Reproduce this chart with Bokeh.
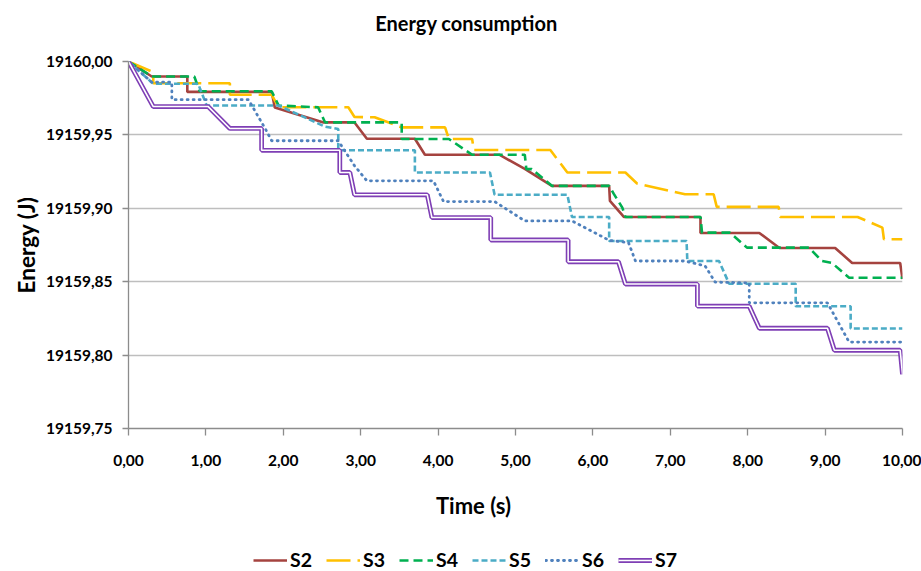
from bokeh.plotting import figure
from bokeh.layouts import column
from bokeh.models import Range1d, FixedTicker, CustomJSTickFormatter, Legend, LegendItem, Label
from bokeh.embed import file_html
from bokeh.resources import INLINE

# ---------------- data ----------------
title_text = "Energy consumption"
x_title = "Time (s)"
y_title = "Energy (J)"
x_ticks = [0, 1, 2, 3, 4, 5, 6, 7, 8, 9, 10]
y_ticks = [19159.75, 19159.80, 19159.85, 19159.90, 19159.95, 19160.00]

s2_t = [0, 0.30, 0.76, 0.76, 1.85, 1.89, 2.52, 2.92, 3.08, 3.70, 3.83, 4.79, 5.12, 5.47, 6.21, 6.22, 6.40,
        7.39, 7.39, 8.15, 8.41, 9.13, 9.35, 9.97, 10.00]
s2_e = [19160.0000, 19159.9898, 19159.9898, 19159.9793, 19159.9793, 19159.9686, 19159.9585, 19159.9585,
        19159.9474, 19159.9474, 19159.9365, 19159.9365, 19159.9269, 19159.9153, 19159.9153, 19159.9051,
        19159.8941, 19159.8941, 19159.8832, 19159.8832, 19159.8730, 19159.8730, 19159.8627, 19159.8627,
        19159.8518]

s3_t = [0, 0.32, 0.32, 1.31, 1.31, 1.85, 1.94, 2.84, 2.92, 3.18, 3.53, 4.09, 4.14, 4.44, 4.46, 5.45, 5.67,
        6.42, 6.57, 7.19, 7.56, 7.60, 8.40, 8.42, 9.42, 9.74, 9.76, 10.00]
s3_e = [19160.0000, 19159.9927, 19159.9852, 19159.9852, 19159.9773, 19159.9773, 19159.9688, 19159.9688,
        19159.9622, 19159.9620, 19159.9551, 19159.9551, 19159.9472, 19159.9472, 19159.9397, 19159.9397,
        19159.9244, 19159.9244, 19159.9169, 19159.9096, 19159.9096, 19159.9010, 19159.9010, 19159.8941,
        19159.8941, 19159.8868, 19159.8789, 19159.8789]

s4_t = [0, 0.30, 0.85, 0.92, 1.85, 1.94, 2.45, 2.54, 3.53, 3.53, 4.14, 4.44, 5.12, 5.14, 5.21, 5.47, 6.21,
        6.27, 6.38, 6.42, 7.39, 7.41, 7.77, 7.99, 8.79, 8.96, 9.09, 9.31, 10.00]
s4_e = [19160.0000, 19159.9898, 19159.9898, 19159.9797, 19159.9797, 19159.9700, 19159.9688, 19159.9585,
        19159.9585, 19159.9472, 19159.9472, 19159.9365, 19159.9365, 19159.9267, 19159.9267, 19159.9153,
        19159.9153, 19159.9098, 19159.9005, 19159.8941, 19159.8941, 19159.8834, 19159.8834, 19159.8732,
        19159.8732, 19159.8641, 19159.8627, 19159.8527, 19159.8527]

s5_t = [0, 0.32, 0.90, 1.01, 1.94, 2.54, 2.71, 2.71, 3.70, 3.70, 4.67, 4.73, 5.67, 5.73, 6.21, 6.21, 7.21,
        7.22, 7.63, 7.76, 8.62, 8.62, 9.33, 9.33, 10.00]
s5_e = [19160.0000, 19159.9848, 19159.9848, 19159.9700, 19159.9700, 19159.9556, 19159.9540, 19159.9395,
        19159.9395, 19159.9244, 19159.9244, 19159.9092, 19159.9092, 19159.8941, 19159.8941, 19159.8777,
        19159.8777, 19159.8641, 19159.8641, 19159.8486, 19159.8486, 19159.8333, 19159.8333, 19159.8181,
        19159.8181]

s6_t = [0, 0.30, 0.56, 0.56, 1.55, 1.77, 1.85, 2.71, 2.92, 3.08, 3.94, 4.07, 4.73, 5.12, 5.73, 6.21, 6.46,
        6.55, 7.19, 7.45, 7.58, 8.02, 8.02, 9.03, 9.31, 10.00]
s6_e = [19160.0000, 19159.9859, 19159.9859, 19159.9740, 19159.9740, 19159.9539, 19159.9460, 19159.9460,
        19159.9290, 19159.9187, 19159.9187, 19159.9046, 19159.9046, 19159.8914, 19159.8914, 19159.8782,
        19159.8766, 19159.8641, 19159.8641, 19159.8607, 19159.8497, 19159.8492, 19159.8356, 19159.8356,
        19159.8089, 19159.8089]

s7_t = [0, 0.32, 1.03, 1.31, 1.72, 1.72, 2.73, 2.73, 2.86, 2.92, 3.86, 3.92, 4.68, 4.68, 5.68, 5.68, 6.33,
        6.42, 7.35, 7.35, 8.02, 8.15, 9.03, 9.12, 9.97, 10.00]
s7_e = [19160.0000, 19159.9693, 19159.9693, 19159.9544, 19159.9544, 19159.9395, 19159.9395, 19159.9244,
        19159.9244, 19159.9092, 19159.9092, 19159.8937, 19159.8937, 19159.8784, 19159.8784, 19159.8636,
        19159.8636, 19159.8484, 19159.8484, 19159.8333, 19159.8333, 19159.8183, 19159.8183, 19159.8033,
        19159.8033, 19159.7870]

series_names = ["S2", "S3", "S4", "S5", "S6", "S7"]

FONT = "Lato"
W = 921
FRAME_LEFT = 128      # page x of the plotting area's left edge (frames are aligned in the column)

STYLES = {
    "S2": dict(line_color="#A5433F", line_width=2.6),
    "S3": dict(line_color="#FFC000", line_width=2.6, line_dash="24 7"),
    "S4": dict(line_color="#00B050", line_width=2.6, line_dash="9 5"),
    "S5": dict(line_color="#4BACC6", line_width=2.6, line_dash="6 3"),
    "S6": dict(line_color="#4F81BD", line_width=2.8, line_dash="1 5", line_cap="round"),
}
S7_OUTER = dict(line_color="#7F3FB5", line_width=4.8)
S7_INNER = dict(line_color="white", line_width=1.6)

data = {"S2": (s2_t, s2_e), "S3": (s3_t, s3_e), "S4": (s4_t, s4_e),
        "S5": (s5_t, s5_e), "S6": (s6_t, s6_e), "S7": (s7_t, s7_e)}


def strip(height):
    f = figure(width=W, height=height, output_backend="svg", toolbar_location=None,
               x_range=Range1d(0, 10), y_range=Range1d(0, 1),
               x_axis_type=None, y_axis_type=None,
               min_border_left=FRAME_LEFT, min_border_right=19, min_border_top=0, min_border_bottom=0)
    f.outline_line_color = None
    f.grid.visible = False
    return f


# ---------------- title strip ----------------
tf = strip(40)
tf.add_layout(Label(x=466 - FRAME_LEFT, y=18, x_units="screen", y_units="screen", text=title_text,
                    text_align="center", text_baseline="middle",
                    text_font=FONT, text_font_size="20px", text_font_style="bold", text_color="black"))

# ---------------- main chart ----------------
p = figure(width=W, height=438, output_backend="svg", toolbar_location=None,
           x_range=Range1d(0, 10), y_range=Range1d(19159.75, 19160.0),
           min_border_left=FRAME_LEFT, min_border_right=19, min_border_top=21, min_border_bottom=50)
p.outline_line_color = None

fmt = "return tick.toFixed(2).replace('.', ',');"
for ax, ticks in ((p.xaxis[0], x_ticks), (p.yaxis[0], y_ticks)):
    ax.ticker = FixedTicker(ticks=ticks)
    ax.formatter = CustomJSTickFormatter(code=fmt)
    ax.major_label_text_font = FONT
    ax.major_label_text_font_size = "15.5px"
    ax.major_label_text_font_style = "bold"
    ax.major_label_text_color = "black"
    ax.axis_line_color = "#8C8C8C"
    ax.axis_line_width = 1.3
    ax.major_tick_line_color = "#8C8C8C"
    ax.major_tick_line_width = 1.3
    ax.major_tick_in = 0
    ax.minor_tick_line_color = None

p.xaxis.major_tick_out = 7
p.xaxis.major_label_standoff = 19
p.yaxis.major_tick_out = 6
p.yaxis.major_label_standoff = 10
p.yaxis.axis_label = y_title
p.yaxis.axis_label_standoff = 3
p.yaxis.axis_label_text_font = FONT
p.yaxis.axis_label_text_font_style = "bold"
p.yaxis.axis_label_text_font_size = "22.5px"
p.yaxis.axis_label_text_color = "black"

p.xgrid.visible = False
p.ygrid.ticker = FixedTicker(ticks=y_ticks)
p.ygrid.grid_line_color = "#BEBEBE"
p.ygrid.grid_line_width = 1.4

for name in ["S2", "S3", "S4", "S5", "S6"]:
    t, e = data[name]
    p.line(t, e, **STYLES[name])
p.line(s7_t, s7_e, **S7_OUTER)
p.line(s7_t, s7_e, **S7_INNER)

# ---------------- x title + legend strip ----------------
lf = strip(93)
lf.add_layout(Label(x=473 - FRAME_LEFT, y=66, x_units="screen", y_units="screen", text=x_title,
                    text_align="center", text_baseline="middle",
                    text_font=FONT, text_font_size="22px", text_font_style="bold", text_color="black"))

# legend samples use the same series (they fall outside this strip's visible range)
items = []
for name in series_names:
    t, e = data[name]
    if name == "S7":
        ra = lf.line(t, e, **S7_OUTER)
        rb = lf.line(t, e, **S7_INNER)
        items.append(LegendItem(label=name, renderers=[ra, rb]))
    else:
        r = lf.line(t, e, **STYLES[name])
        items.append(LegendItem(label=name, renderers=[r]))

legend = Legend(items=items, orientation="horizontal", location=(253 - FRAME_LEFT, 0))
legend.border_line_color = None
legend.background_fill_alpha = 0
legend.padding = 0
legend.margin = 0
legend.spacing = 14
legend.glyph_width = 34
legend.glyph_height = 20
legend.label_height = 20
legend.label_standoff = 3
legend.label_text_font = FONT
legend.label_text_font_size = "19.5px"
legend.label_text_font_style = "bold"
legend.label_text_color = "black"
lf.add_layout(legend, "center")

layout = column(tf, p, lf, spacing=0)
open("out.html", "w").write(file_html(layout, INLINE))
